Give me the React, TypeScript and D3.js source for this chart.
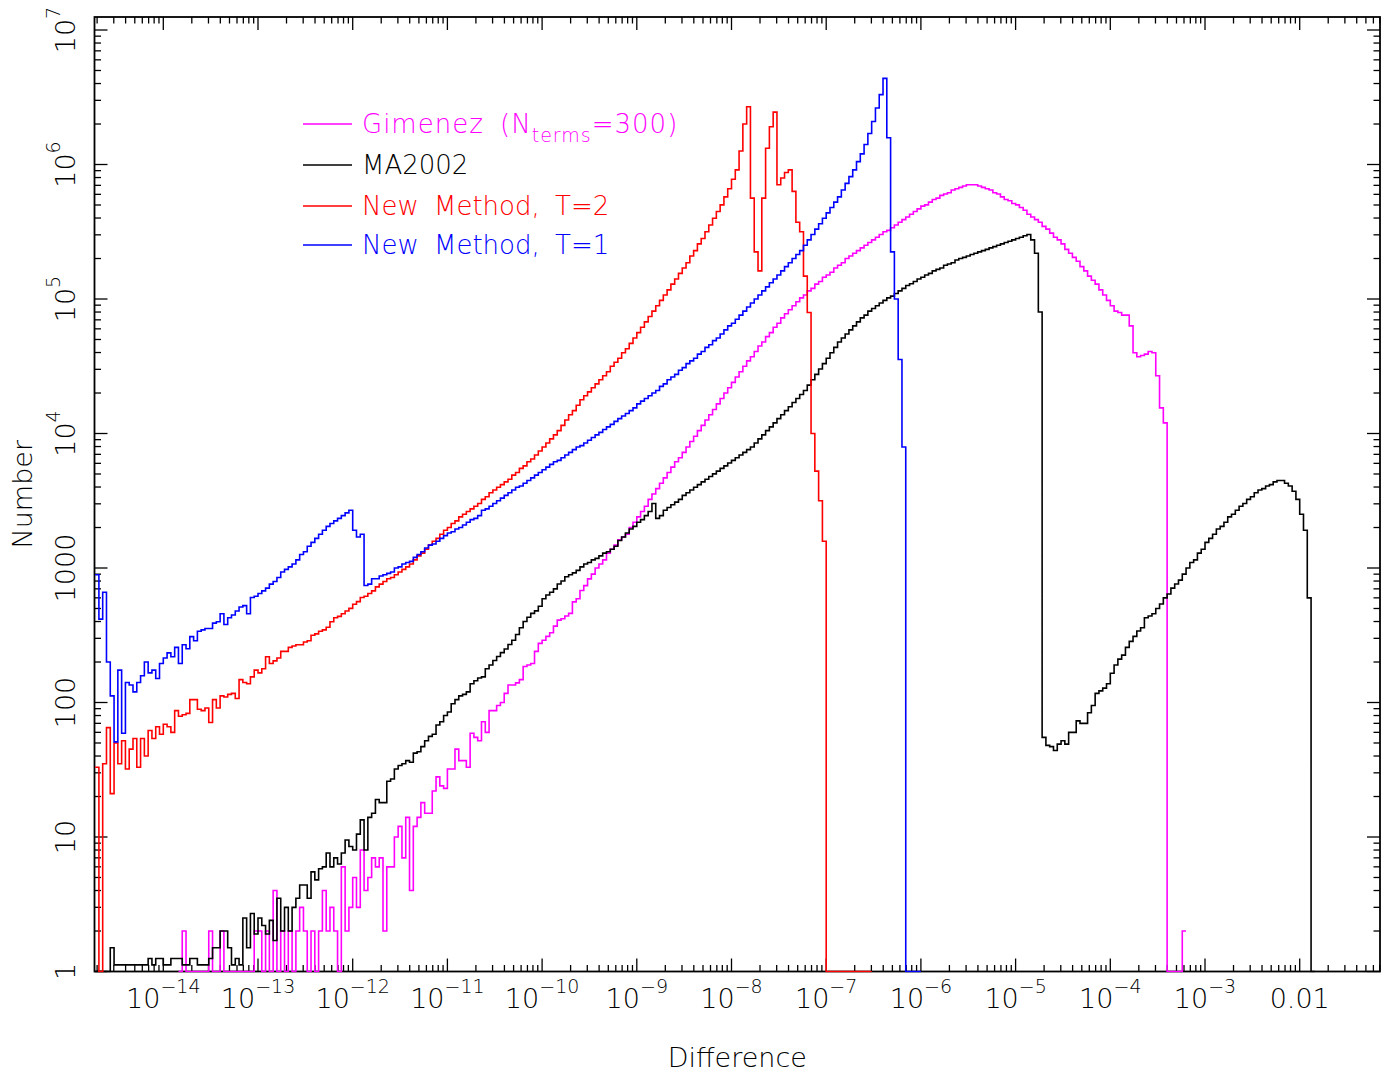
import React from "react";
import * as d3 from "d3";

// Histogram binning (log10 of Difference)
const BIN_START_LOG = -14.72;
const BIN_WIDTH_LOG = 0.04;

// Gimenez (N_terms=300) — counts per bin, starting at bin 22
const gimenezFirstBin = 22;
const gimenez = [
  0, 2, 0, 0, 0, 0, 0, 0,
  2, 0, 0, 2, 0, 0, 0, 0, 0, 0,
  0, 0, 2, 2, 0, 2, 0, 4, 0, 2,
  0, 2, 0, 2, 3, 2, 0, 2, 0, 2,
  4, 2, 3, 2, 0, 6, 2, 3, 5, 3,
  8, 4, 5, 7, 6, 7, 2, 6, 6, 10,
  12, 7, 14, 4, 12, 14, 18, 15, 15, 22,
  28, 24, 23, 32, 32, 45, 37, 37, 33, 59,
  55, 52, 72, 60, 87, 87, 95, 100, 117, 135,
  135, 140, 148, 185, 190, 195, 240, 275, 290, 310,
  330, 370, 410, 420, 440, 460, 560, 590, 680, 740,
  830, 900, 1000, 1070, 1150, 1290, 1380, 1480, 1620, 1700,
  1780, 2000, 2190, 2400, 2630, 2880, 3240, 3550, 3890, 4270,
  4680, 5130, 5620, 6170, 6610, 7240, 7940, 8710, 9550, 10500,
  11500, 12600, 13800, 15100, 16600, 18200, 20000, 21900, 24000, 26300,
  28800, 31600, 34700, 37200, 40700, 44700, 47900, 52500, 56200, 61700,
  66100, 72400, 77600, 83200, 89100, 95500, 102000, 107000, 115000, 120000,
  129000, 135000, 145000, 151000, 158000, 170000, 178000, 186000, 200000, 209000,
  219000, 229000, 240000, 251000, 263000, 275000, 288000, 302000, 316000, 324000,
  339000, 355000, 372000, 389000, 407000, 427000, 447000, 468000, 490000, 501000,
  525000, 550000, 562000, 589000, 603000, 617000, 646000, 661000, 676000, 692000,
  708000, 708000, 708000, 692000, 676000, 661000, 646000, 617000, 603000, 575000,
  550000, 537000, 513000, 501000, 479000, 457000, 427000, 407000, 389000, 372000,
  347000, 331000, 309000, 288000, 275000, 257000, 234000, 219000, 204000, 191000,
  174000, 162000, 148000, 138000, 129000, 117000, 107000, 97700, 89100, 81300,
  79400, 75900, 75900, 63100, 39800, 37200, 38000, 38900, 40700, 39800,
  26900, 15500, 12000, 0, 0, 0, 0, 2,
];

// MA2002
const ma2002FirstBin = 0;
const ma2002 = [
  0, 0, 0, 0, 1.5, 1.12, 1.12, 1.12, 1.12, 1.12,
  1.12, 1.12, 1.12, 1.12, 1.25, 1.12, 1.25, 1.25, 1.12, 1.12,
  1.25, 1.25, 1.25, 1.12, 1.12, 1.25, 1.25, 1.12, 1.12, 1.12,
  1.25, 1.5, 1.5, 2, 2, 1.5, 1.12, 1.25, 1.12, 2.5,
  1.5, 2.7, 1.9, 2.5, 2.2, 1.9, 2.4, 1.7, 3.5, 2,
  3, 2, 3, 3.5, 4.4, 4.4, 3.5, 5.5, 4.8, 5.8,
  6, 7.6, 6, 7, 6.3, 7.6, 9.5, 8.5, 8, 10.5,
  13.4, 8, 14, 15, 19, 18, 18, 26, 27, 32,
  34, 35, 37, 36, 42, 43, 47, 52, 56, 58,
  68, 72, 80, 85, 98, 105, 112, 115, 120, 138,
  145, 152, 155, 178, 190, 205, 220, 235, 250, 270,
  290, 320, 360, 400, 430, 460, 480, 520, 590, 630,
  660, 700, 760, 800, 860, 890, 920, 960, 1020, 1070,
  1100, 1150, 1180, 1230, 1290, 1320, 1380, 1450, 1600, 1700,
  1820, 1950, 2040, 2190, 2290, 2450, 2630, 3020, 2340, 2450,
  2690, 2820, 2950, 3090, 3240, 3470, 3630, 3800, 3980, 4170,
  4370, 4570, 4790, 5010, 5250, 5500, 5750, 6030, 6310, 6610,
  6920, 7240, 7590, 7940, 8510, 9120, 9770, 10500, 11200, 12000,
  12900, 13800, 14800, 15800, 17000, 18200, 19500, 20900, 22900, 25100,
  27500, 30200, 33100, 36300, 39800, 43700, 47900, 51300, 55000, 58900,
  63100, 67600, 72400, 75900, 81300, 85100, 89100, 93300, 97700, 102000,
  105000, 110000, 115000, 120000, 126000, 130000, 135000, 141000, 145000, 151000,
  155000, 162000, 166000, 170000, 178000, 182000, 186000, 195000, 200000, 204000,
  209000, 214000, 219000, 224000, 229000, 234000, 240000, 245000, 251000, 257000,
  263000, 269000, 275000, 282000, 288000, 295000, 302000, 275000, 219000, 80000,
  55, 48, 47, 44, 49, 52, 49, 60, 60, 73,
  70, 70, 84, 95, 117, 122, 128, 138, 165, 190,
  210, 225, 257, 285, 310, 340, 360, 427, 440, 457,
  500, 540, 600, 640, 708, 760, 813, 900, 1000, 1100,
  1150, 1290, 1380, 1550, 1660, 1780, 1950, 2040, 2190, 2400,
  2510, 2690, 2880, 3020, 3240, 3390, 3630, 3800, 3890, 4070,
  4170, 4370, 4470, 4470, 4270, 4070, 3720, 3240, 2510, 1910,
  600, 0,
];

// New Method, T=2
const newT2FirstBin = 0;
const newT2 = [
  33, 0, 35, 65, 21, 50, 35, 52, 32, 45,
  54, 33, 54, 40, 62, 54, 66, 58, 69, 66,
  60, 87, 79, 81, 83, 105, 105, 89, 87, 91,
  71, 105, 91, 112, 110, 115, 117, 107, 148, 141,
  138, 155, 174, 166, 178, 219, 195, 204, 214, 240,
  240, 257, 263, 269, 269, 282, 288, 316, 324, 339,
  347, 363, 398, 427, 437, 457, 479, 501, 537, 562,
  603, 617, 646, 676, 724, 759, 794, 832, 851, 891,
  933, 977, 1020, 1070, 1150, 1230, 1290, 1380, 1480, 1580,
  1660, 1780, 1910, 2000, 2140, 2240, 2400, 2510, 2630, 2750,
  2880, 3020, 3240, 3390, 3630, 3800, 3980, 4170, 4370, 4570,
  4900, 5130, 5500, 5750, 6170, 6460, 6920, 7410, 7940, 8510,
  9120, 9770, 10500, 11500, 12600, 13800, 14800, 16200, 17800, 19100,
  20400, 21900, 23400, 25100, 26900, 28800, 31600, 33900, 36300, 39800,
  42700, 46800, 51300, 56200, 61700, 67600, 74100, 81300, 89100, 97700,
  107000, 117000, 129000, 141000, 155000, 170000, 186000, 209000, 229000, 257000,
  282000, 316000, 355000, 398000, 447000, 501000, 575000, 661000, 776000, 912000,
  1260000, 2000000, 2690000, 562000, 224000, 162000, 562000, 1320000, 1910000, 2450000,
  708000, 794000, 871000, 912000, 631000, 372000, 316000, 148000, 79400, 10000,
  5250, 3160, 1580, 0, 0, 0, 0, 0, 0, 0,
  0, 0, 0, 0, 0,
];

// New Method, T=1
const newT1FirstBin = 0;
const newT1 = [
  890, 417, 661, 200, 112, 51, 174, 59, 141, 135,
  120, 141, 158, 200, 166, 174, 151, 195, 214, 234,
  219, 257, 195, 269, 251, 309, 288, 339, 347, 355,
  355, 389, 398, 457, 380, 427, 447, 479, 513, 525,
  457, 603, 617, 646, 676, 708, 759, 794, 851, 933,
  977, 1020, 1070, 1150, 1260, 1320, 1450, 1550, 1660, 1780,
  1910, 2040, 2140, 2240, 2340, 2450, 2570, 2690, 1910, 1700,
  1780, 741, 759, 832, 832, 871, 891, 912, 933, 1000,
  1020, 1070, 1100, 1120, 1200, 1260, 1320, 1410, 1480, 1510,
  1580, 1660, 1740, 1820, 1860, 1950, 2000, 2090, 2190, 2290,
  2340, 2450, 2690, 2750, 2880, 3020, 3160, 3310, 3470, 3630,
  3800, 3980, 4070, 4270, 4470, 4680, 4900, 5130, 5370, 5620,
  5890, 6170, 6310, 6610, 6920, 7240, 7590, 7940, 8130, 8510,
  8910, 9330, 9770, 10200, 10700, 11200, 11700, 12300, 12900, 13500,
  14100, 14800, 15500, 16600, 17400, 18200, 19100, 20000, 20900, 22400,
  23400, 25100, 26300, 27500, 29500, 30900, 33100, 34700, 36300, 38900,
  40700, 43700, 45700, 49000, 51300, 55000, 58900, 63100, 66100, 70800,
  75900, 81300, 87100, 93300, 100000, 107000, 115000, 123000, 132000, 141000,
  151000, 162000, 174000, 186000, 200000, 214000, 229000, 251000, 275000, 302000,
  331000, 363000, 398000, 437000, 479000, 525000, 575000, 646000, 724000, 813000,
  912000, 1050000, 1200000, 1410000, 1700000, 2090000, 2630000, 3310000, 4370000, 1580000,
  224000, 100000, 35500, 7940, 0, 0, 0, 0,
];

const xMajorExponents = [-14, -13, -12, -11, -10, -9, -8, -7, -6, -5, -4, -3, -2];
const yMajorExponents = [0, 1, 2, 3, 4, 5, 6, 7];
const yPlainLabels = ["1", "10", "100", "1000"];

const series = [
  { name: "Gimenez", values: gimenez, first: gimenezFirstBin, color: "#ff00ff" },
  { name: "MA2002", values: ma2002, first: ma2002FirstBin, color: "#000000" },
  { name: "New Method, T=2", values: newT2, first: newT2FirstBin, color: "#ff0000" },
  { name: "New Method, T=1", values: newT1, first: newT1FirstBin, color: "#0000ff" },
];

const FONT = "DejaVu Sans";

export default function App() {
  const W = 1393;
  const H = 1077;
  const P = { left: 94.5, right: 1380, top: 17, bottom: 971.5 };

  const x = d3
    .scaleLog()
    .domain([Math.pow(10, -14.7265), Math.pow(10, -1.1521)])
    .range([P.left, P.right]);
  const y = d3
    .scaleLog()
    .domain([1, Math.pow(10, 7.0967)])
    .range([P.bottom, P.top]);

  const [xd0, xd1] = x.domain();
  const [yd0, yd1] = y.domain();

  const xMinor: number[] = [];
  for (let e = -15; e <= -1; e++) {
    for (let m = 2; m <= 9; m++) {
      const v = m * Math.pow(10, e);
      if (v > xd0 && v < xd1) xMinor.push(v);
    }
  }
  const yMinor: number[] = [];
  for (let e = 0; e <= 7; e++) {
    for (let m = 2; m <= 9; m++) {
      const v = m * Math.pow(10, e);
      if (v > yd0 && v < yd1) yMinor.push(v);
    }
  }

  const line = d3.line<[number, number]>();
  const stepPath = (values: number[], first: number) => {
    const pts: [number, number][] = [];
    values.forEach((v, i) => {
      const k = first + i;
      const a = Math.pow(10, BIN_START_LOG + k * BIN_WIDTH_LOG);
      const b = Math.pow(10, BIN_START_LOG + (k + 1) * BIN_WIDTH_LOG);
      const yy = y(Math.max(v, 1));
      pts.push([x(a), yy], [x(b), yy]);
    });
    return line(pts) || "";
  };

  const MAJ = 13;
  const MIN = 6.5;

  return (
    <svg
      width={W}
      height={H}
      style={{ position: "absolute", left: 0, top: 0, background: "#fff" }}
      fontFamily={FONT}
      fontWeight={300}
    >
      <rect x={0} y={0} width={W} height={H} fill="#fff" />
      <defs>
        <clipPath id="plotclip">
          <rect x={P.left - 1} y={P.top - 1} width={P.right - P.left + 2} height={P.bottom - P.top + 2} />
        </clipPath>
      </defs>

      {/* ticks */}
      <g stroke="#000" strokeWidth={1.3}>
        {xMajorExponents.map((e) => {
          const xv = x(Math.pow(10, e));
          return (
            <g key={"xM" + e}>
              <line x1={xv} x2={xv} y1={P.bottom} y2={P.bottom - MAJ} />
              <line x1={xv} x2={xv} y1={P.top} y2={P.top + MAJ} />
            </g>
          );
        })}
        {xMinor.map((v, i) => {
          const xv = x(v);
          return (
            <g key={"xm" + i}>
              <line x1={xv} x2={xv} y1={P.bottom} y2={P.bottom - MIN} />
              <line x1={xv} x2={xv} y1={P.top} y2={P.top + MIN} />
            </g>
          );
        })}
        {yMajorExponents.map((e) => {
          const yv = y(Math.pow(10, e));
          return (
            <g key={"yM" + e}>
              <line x1={P.left} x2={P.left + MAJ} y1={yv} y2={yv} />
              <line x1={P.right} x2={P.right - MAJ} y1={yv} y2={yv} />
            </g>
          );
        })}
        {yMinor.map((v, i) => {
          const yv = y(v);
          return (
            <g key={"ym" + i}>
              <line x1={P.left} x2={P.left + MIN} y1={yv} y2={yv} />
              <line x1={P.right} x2={P.right - MIN} y1={yv} y2={yv} />
            </g>
          );
        })}
      </g>
      <rect
        x={P.left}
        y={P.top}
        width={P.right - P.left}
        height={P.bottom - P.top}
        fill="none"
        stroke="#000"
        strokeWidth={1.8}
      />

      {/* data */}
      <g clipPath="url(#plotclip)" fill="none" strokeWidth={1.6} strokeLinejoin="miter">
        {series.map((s) => (
          <path key={s.name} d={stepPath(s.values, s.first)} stroke={s.color} />
        ))}
      </g>

      {/* x tick labels */}
      <g fill="#000">
        {xMajorExponents.map((e) => {
          const xv = x(Math.pow(10, e));
          if (e === -2) {
            return (
              <text key={"xl" + e} x={xv} y={1008} textAnchor="middle" fontSize={27}>
                0.01
              </text>
            );
          }
          return (
            <text key={"xl" + e} x={xv} y={1008} textAnchor="middle" fontSize={27}>
              10
              <tspan dy={-15} fontSize={19}>
                {"\u2212" + Math.abs(e)}
              </tspan>
            </text>
          );
        })}
      </g>

      {/* y tick labels */}
      <g fill="#000">
        {yMajorExponents.map((e) => {
          const yv = y(Math.pow(10, e));
          return (
            <text
              key={"yl" + e}
              transform={`translate(75,${yv}) rotate(-90)`}
              textAnchor="middle"
              fontSize={27}
            >
              {e < 4 ? (
                yPlainLabels[e]
              ) : (
                <>
                  10
                  <tspan dy={-15} fontSize={19}>
                    {String(e)}
                  </tspan>
                </>
              )}
            </text>
          );
        })}
      </g>

      {/* axis titles */}
      <text x={(P.left + P.right) / 2} y={1067} textAnchor="middle" fontSize={27} fill="#000">
        Difference
      </text>
      <text transform={`translate(32,${(P.top + P.bottom) / 2}) rotate(-90)`} textAnchor="middle" fontSize={27} fill="#000">
        Number
      </text>

      {/* legend */}
      <g fontSize={26} style={{ wordSpacing: "7px" }}>
        {[
          { color: "#ff00ff", ly: 124 },
          { color: "#000000", ly: 165 },
          { color: "#ff0000", ly: 206 },
          { color: "#0000ff", ly: 245 },
        ].map((r, i) => (
          <g key={"lg" + i}>
            <line x1={303} x2={352} y1={r.ly} y2={r.ly} stroke={r.color} strokeWidth={1.6} />
            <text x={362} y={r.ly + 9} fill={r.color} style={i === 0 ? { letterSpacing: "1px" } : undefined}>
              {i === 0 ? (
                <>
                  Gimenez (N
                  <tspan dy={9} fontSize={19}>
                    terms
                  </tspan>
                  <tspan dy={-9}>=300)</tspan>
                </>
              ) : (
                series[i].name
              )}
            </text>
          </g>
        ))}
      </g>
    </svg>
  );
}
